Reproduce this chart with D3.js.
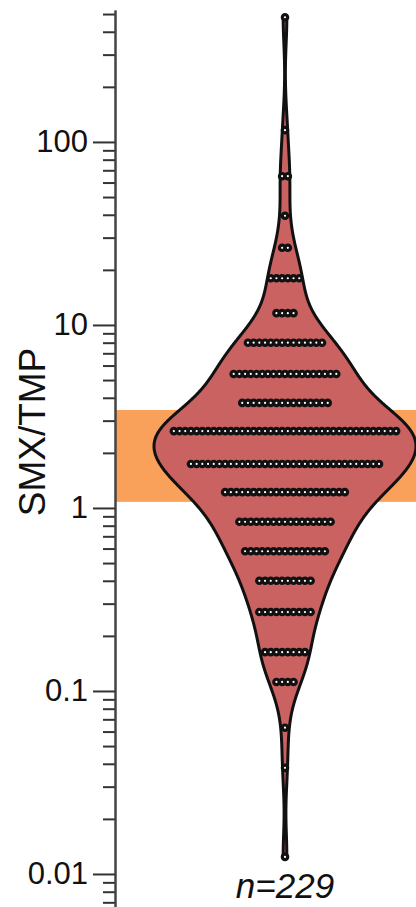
<!DOCTYPE html>
<html>
<head>
<meta charset="utf-8">
<script src="https://cdn.jsdelivr.net/npm/d3@7"></script>
<style>
 body{margin:0;background:#fff;}
 svg{display:block;font-family:"Liberation Sans",Arial,sans-serif;}
</style>
</head>
<body>
<div id="chartDiv"></div>
<script>
// Values: one row of dots per value
var rowValues = [480, 116, 65, 39.5, 26.4, 18, 11.6, 8, 5.4, 3.75, 2.63, 1.74, 1.22, 0.84, 0.58, 0.40, 0.27, 0.163, 0.112, 0.063, 0.038, 0.0124];
var rowCounts = [1,   1,   2,  1,    2,    6,  4,    14, 19,  16,   40,   34,   22,   17,   15,   10,   10,   8,     4,     1,     1,     1];
var majorTicks = [0.01, 0.1, 1, 10, 100];
var targetBand = [1.08, 3.43];
var category = ["SMX/TMP"];
var nLabel = "n=229";

var W = 416, H = 907;
var bandwidth = 0.145;		//KDE bandwidth, log10 units
var maxHalf = 131;		//widest half of the violin, px
var dotStep = 5.7, dotR = 2.7;

var svg = d3.select("#chartDiv").append("svg")
 .attr("width", W).attr("height", H);

var yScale = d3.scaleLog().domain([0.0066, 526]).range([907, 10]);
var xScale = d3.scalePoint().domain(category).range([115, 455]).padding(0.5);
var cx = xScale(category[0]);

//Expand rows into samples
var samples = [];
rowValues.forEach(function(v, i){
 for(var k = 0; k < rowCounts[i]; k++){ samples.push({v: v, row: i, k: k}); }
});

//Orange reference band
svg.append("rect")
 .attr("x", 115).attr("width", W - 115)
 .attr("y", yScale(targetBand[1]))
 .attr("height", yScale(targetBand[0]) - yScale(targetBand[1]))
 .attr("fill", "#f9a05b");

//Gaussian KDE in log space, trimmed at data extremes
var logs = samples.map(function(d){ return Math.log10(d.v); });
var lo = d3.min(logs), hi = d3.max(logs);
var grid = d3.range(lo, hi, 0.005).concat([hi]);
var dens = grid.map(function(g){
 var s = 0;
 logs.forEach(function(l){ var z = (g - l) / bandwidth; s += Math.exp(-0.5 * z * z); });
 return {lv: g, d: s};
});
var wScale = d3.scaleLinear().domain([0, d3.max(dens, function(d){ return d.d; })]).range([0, maxHalf]);

var area = d3.area()
 .y(function(d){ return yScale(Math.pow(10, d.lv)); })
 .x0(function(d){ return cx - wScale(d.d); })
 .x1(function(d){ return cx + wScale(d.d); })
 .curve(d3.curveBasis);

svg.append("path")
 .datum(dens)
 .attr("d", area)
 .attr("fill", "#c96261")
 .attr("stroke", "#111")
 .attr("stroke-width", 3)
 .attr("stroke-linejoin", "round");

//Dots, centred in rows
svg.selectAll(".dot")
 .data(samples)
 .enter().append("circle")
 .attr("cx", function(d){ return cx + (d.k - (rowCounts[d.row] - 1) / 2) * dotStep; })
 .attr("cy", function(d){ return yScale(d.v); })
 .attr("r", dotR)
 .attr("fill", "#fff")
 .attr("stroke", "#111")
 .attr("stroke-width", 3.2);

//Minor ticks
var minorTicks = [];
[-3, -2, -1, 0, 1, 2].forEach(function(e){
 for(var m = 2; m <= 9; m++){
  var t = m * Math.pow(10, e);
  if(t >= yScale.domain()[0] && t <= yScale.domain()[1]) minorTicks.push(t);
 }
});

var axisMinor = svg.append("g")
 .attr("transform", "translate(115,0)")
 .call(d3.axisLeft(yScale).tickValues(minorTicks).tickSize(12).tickSizeOuter(0).tickFormat(""));
var axisMajor = svg.append("g")
 .attr("transform", "translate(115,0)")
 .call(d3.axisLeft(yScale).tickValues(majorTicks).tickSize(22).tickSizeOuter(0).tickPadding(5)
  .tickFormat(d3.format("~g")));

svg.selectAll(".domain").attr("stroke", "#444").attr("stroke-width", 2);
svg.selectAll(".tick line").attr("stroke", "#333").attr("stroke-width", 2);
axisMajor.selectAll("text")
 .attr("font-size", 31)
 .attr("font-family", "'Liberation Sans',Arial,sans-serif")
 .attr("fill", "#111");

//Y title
svg.append("text")
 .attr("transform", "translate(45,432)rotate(-90)")
 .attr("text-anchor", "middle")
 .attr("font-size", 37)
 .attr("fill", "#111")
 .text(category[0]);

//n label
svg.append("text")
 .attr("x", cx).attr("y", 898)
 .attr("text-anchor", "middle")
 .attr("font-size", 35)
 .attr("font-style", "italic")
 .attr("fill", "#111")
 .text(nLabel);
</script>
</body>
</html>
